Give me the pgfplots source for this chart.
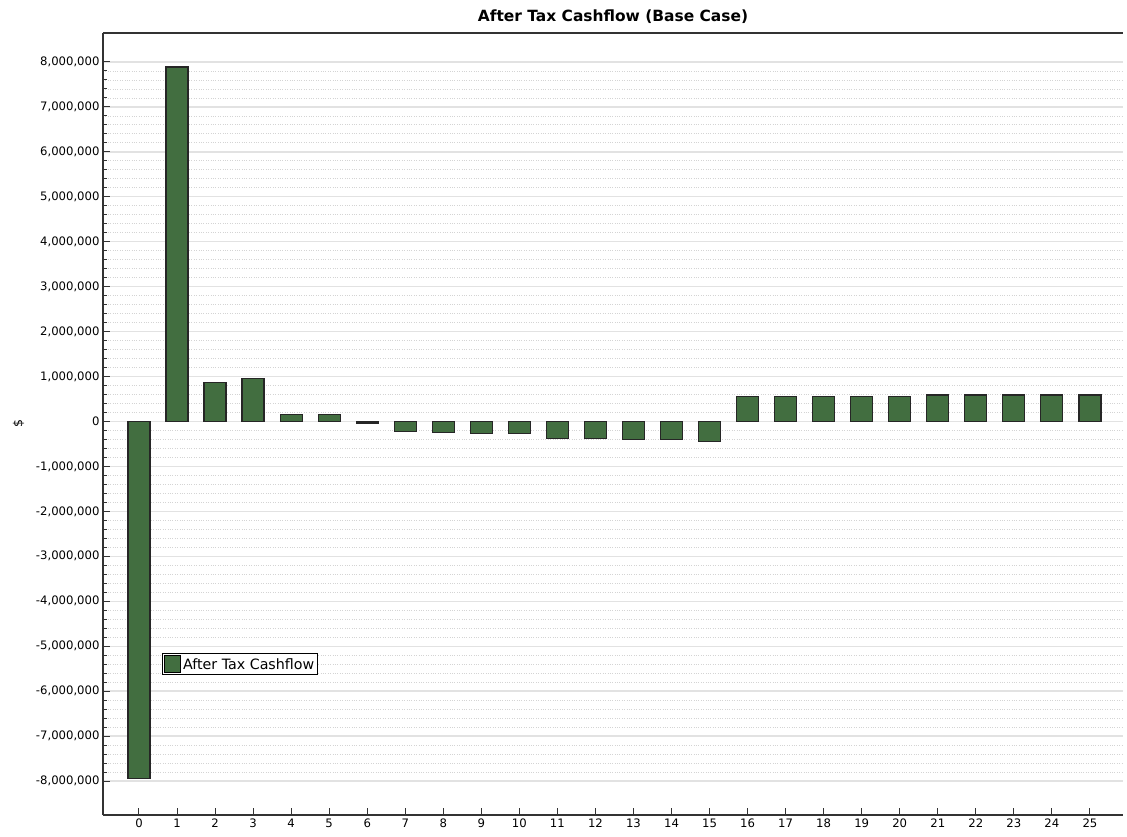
\documentclass[border=0pt]{standalone}
\usepackage{fontspec}
\setmainfont{DejaVu Sans}
\usepackage{pgfplots}
\pgfplotsset{compat=1.18}
\definecolor{barGreen}{HTML}{426E40}
\definecolor{gridMajor}{HTML}{E2E2E2}
\definecolor{gridMinor}{HTML}{D4D4D4}

\begin{document}
\begin{tikzpicture}
\begin{axis}[
    scale only axis,
    width=1020bp, height=782bp,
    ybar, bar width=22bp,
    xmin=-0.946, xmax=25.87,
    ymin=-8756000, ymax=8645000,
    axis x line=box, axis y line=left,
    axis line style={black!80, line width=1.2bp, -},
    xtick={0,...,25}, xtick pos=bottom,
    ytick={-8000000,-7000000,...,8000000}, ytick pos=left,
    minor y tick num=4,
    tick align=inside,
    major tick length=7bp, minor tick length=3.5bp,
    every tick/.style={black!80, line width=1bp},
    ymajorgrids, yminorgrids,
    major grid style={gridMajor, line width=1.3bp},
    minor grid style={gridMinor, dotted, line width=0.8bp},
    scaled y ticks=false,
    yticklabel style={/pgf/number format/fixed, /pgf/number format/precision=0,
        /pgf/number format/1000 sep={,}, font=\fontsize{11.7}{13}\selectfont},
    xticklabel style={font=\fontsize{11.7}{13}\selectfont},
    /pgf/number format/assume math mode=true,
    ylabel={\$}, ylabel style={font=\fontsize{12.5}{14}\selectfont, yshift=5bp},
    title={After Tax Cashflow (Base Case)},
    title style={font=\bfseries\fontsize{15.5}{17}\selectfont, yshift=0bp},
    legend style={at={(0.058,0.207)}, anchor=north west, draw=black, line width=0.8bp,
        fill=white, inner sep=1.5bp, font=\fontsize{14.3}{16}\selectfont,
        /tikz/every even column/.append style={column sep=0bp}},
    legend image code/.code={\draw[fill=barGreen, draw=black, line width=1bp] (-1bp,-8bp) rectangle (15bp,9bp);},
]
\addplot[fill=barGreen, draw=black!85, line width=1.2bp] coordinates {
(0,-7950000) (1,7890000) (2,860000) (3,950000) (4,160000) (5,160000)
(6,-35000) (7,-230000) (8,-240000) (9,-260000) (10,-260000)
(11,-370000) (12,-370000) (13,-400000) (14,-400000) (15,-450000)
(16,560000) (17,560000) (18,560000) (19,560000) (20,560000)
(21,590000) (22,590000) (23,590000) (24,590000) (25,590000)
};
\addlegendentry{After Tax Cashflow}
\coordinate (A) at (rel axis cs:0,0);
\coordinate (B) at (rel axis cs:1,1);
\end{axis}
\pgfresetboundingbox
\path[use as bounding box] ([xshift=-103bp,yshift=-21bp]A) rectangle ([xshift=4bp,yshift=33bp]B);
\end{tikzpicture}
\end{document}
